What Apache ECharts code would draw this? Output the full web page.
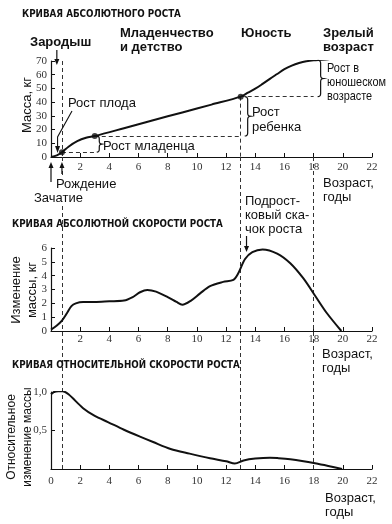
<!DOCTYPE html>
<html><head><meta charset="utf-8">
<script src="https://cdn.jsdelivr.net/npm/echarts/dist/echarts.min.js"></script>
<style>html,body{margin:0;padding:0;background:#fff}#c{width:392px;height:524px}</style>
</head><body><div id="c"></div>
<script>
// ---- data ----
const ageTicks = [0, 2, 4, 6, 8, 10, 12, 14, 16, 18, 20, 22];
const ages1 = [0, 0.4, 0.75, 1.2, 1.8, 2.4, 3, 5, 7, 9, 11, 13, 13.5, 14, 14.5, 15, 15.5, 16, 16.5, 17, 17.5, 18, 19, 20, 21.5];
const mass  = [0, 1.2, 3.5, 7.5, 11.5, 14, 15.3, 21, 26.8, 32.5, 38.2, 44, 47, 49.8, 53.3, 57, 60.5, 64, 66.6, 68.5, 69.8, 70.5, 71.3, 72, 72.7];
const keyAges = [0.75, 3, 13, 18];
const keyMass = [3.5, 15.3, 44, 70.5];
const ages2 = [0, 0.4, 0.75, 1.1, 1.4, 1.7, 2.2, 3, 4, 5, 5.6, 6.1, 6.6, 7.2, 8, 8.6, 9, 9.6, 10.2, 10.9, 11.8, 12.5, 12.8, 13.3, 13.8, 14.5, 15.5, 16.4, 17.3, 18.1, 18.9, 19.9];
const velocity = [0.1, 0.4, 0.75, 1.3, 1.8, 2.0, 2.1, 2.1, 2.15, 2.2, 2.45, 2.8, 2.97, 2.85, 2.45, 2.1, 1.9, 2.2, 2.7, 3.25, 3.55, 3.7, 4.1, 5.2, 5.7, 5.9, 5.6, 4.9, 3.8, 2.55, 1.3, 0];
const ages3 = [0, 0.2, 0.5, 0.8, 1.2, 2.2, 3, 3.9, 5, 6.1, 7, 8.2, 9.5, 10.9, 12, 12.6, 13.2, 14, 15, 15.6, 16.4, 17.2, 18.1, 19, 19.95];
const relative = [0.97, 1.0, 1.01, 1.01, 0.97, 0.79, 0.69, 0.61, 0.51, 0.42, 0.35, 0.26, 0.2, 0.14, 0.1, 0.07, 0.11, 0.135, 0.147, 0.14, 0.126, 0.105, 0.075, 0.04, 0];
const stageAges = [0.75, 13, 18];
const massTicks = [0, 10, 20, 30, 40, 50, 60, 70];
const velTicks = [0, 1, 2, 3, 4, 5, 6];
const relTicks = ['1,0', '0,5'];

const INK = '#111';
const SERIF = 'Liberation Serif';
const SANS = 'Liberation Sans';
const COND = '"DejaVu Sans Condensed", "Liberation Sans"';

function xAx(gi, showZero, margin) {
  return { type: 'value', gridIndex: gi, min: 0, max: 22, interval: 2,
    axisLine: { show: true, onZero: false, lineStyle: { color: INK, width: 1.2 } },
    axisTick: { show: true, inside: true, length: 4, lineStyle: { color: INK } },
    axisLabel: { show: true, margin: margin, fontFamily: SERIF, fontSize: 11, color: '#333',
      formatter: v => (v === 0 && !showZero) ? '' : String(v) },
    splitLine: { show: false } };
}
function yAx(gi, max, interval, fmt) {
  return { type: 'value', gridIndex: gi, min: 0, max: max, interval: interval,
    axisLine: { show: true, lineStyle: { color: INK, width: 1.2 } },
    axisTick: { show: true, inside: true, length: 4, lineStyle: { color: INK } },
    axisLabel: { show: true, margin: 4, fontFamily: SERIF, fontSize: 11, color: '#333', formatter: fmt },
    splitLine: { show: false } };
}
const dashed = { type: [4, 3], color: '#333', width: 1 };
const zip = (a, b) => a.map((v, i) => [v, b[i]]);

const chart = echarts.init(document.getElementById('c'), null, { renderer: 'canvas' });
chart.setOption({
  animation: false,
  backgroundColor: '#fff',
  grid: [
    { left: 51, right: 20, top: 61, height: 96 },
    { left: 51, right: 20, top: 248, height: 83 },
    { left: 51, right: 20, top: 392, height: 77 },
    { left: 51, right: 20, top: 157, height: 312 }
  ],
  xAxis: [xAx(0, false, 5), xAx(1, false, 3), xAx(2, true, 7),
    { type: 'value', gridIndex: 3, min: 0, max: 22, show: false }],
  yAxis: [
    yAx(0, 70, 10, v => massTicks.includes(v) ? String(v) : ''),
    yAx(1, 6, 1, v => velTicks.includes(v) ? String(v) : ''),
    yAx(2, 1, 0.5, v => v === 1 ? relTicks[0] : (v === 0.5 ? relTicks[1] : '')),
    { type: 'value', gridIndex: 3, min: 0, max: 1, show: false }
  ],
  series: [
    { type: 'line', xAxisIndex: 0, yAxisIndex: 0, data: zip(ages1, mass), smooth: 0.3,
      showSymbol: false, lineStyle: { color: INK, width: 2 }, z: 5,
      markLine: { silent: true, symbol: ['none', 'none'], label: { show: false }, lineStyle: dashed,
        data: [
          [{ coord: [keyAges[0], keyMass[0]] }, { coord: [keyAges[1], keyMass[0]] }],
          [{ coord: [keyAges[1], keyMass[1]] }, { coord: [keyAges[2], keyMass[1]] }],
          [{ coord: [keyAges[2], keyMass[2]] }, { coord: [keyAges[3], keyMass[2]] }],
          [{ coord: [stageAges[0], 70] }, { coord: [stageAges[0], 0] }],
          [{ coord: [keyAges[2], keyMass[2]] }, { coord: [keyAges[2], 0] }],
          [{ coord: [keyAges[3], keyMass[3]] }, { coord: [keyAges[3], 0] }]
        ] } },
    { type: 'scatter', xAxisIndex: 0, yAxisIndex: 0, data: zip(keyAges, keyMass), symbolSize: 6,
      itemStyle: { color: INK }, z: 6 },
    { type: 'line', xAxisIndex: 1, yAxisIndex: 1, data: zip(ages2, velocity), smooth: 0.3,
      showSymbol: false, lineStyle: { color: INK, width: 2 }, z: 5 },
    { type: 'line', xAxisIndex: 2, yAxisIndex: 2, data: zip(ages3, relative), smooth: 0.3,
      showSymbol: false, lineStyle: { color: INK, width: 2 }, z: 5 },
    { type: 'line', xAxisIndex: 3, yAxisIndex: 3, data: [], showSymbol: false,
      markLine: { silent: true, symbol: ['none', 'none'], label: { show: false }, lineStyle: dashed,
        data: stageAges.map(a => ({ xAxis: a })) } }
  ]
});

// ---- annotations ----
const P = (g, x, y) => chart.convertToPixel({ gridIndex: g }, [x, y]);
function txt(x, y, text, o) {
  o = o || {};
  return { type: 'text', x: x, y: y, z: 100, rotation: o.rot || 0, scaleX: o.sx || 1, originX: 0, originY: 0,
    style: { text: text, fill: INK, fontFamily: o.ff || SANS, fontSize: o.fs || 13, fontWeight: o.fw || 'normal',
      align: o.align || 'left', verticalAlign: 'middle', lineHeight: o.lh || 15,
      backgroundColor: o.bg || null, padding: o.bg ? [0, 1] : 0 } };
}
function arrow(x, y1, y2) { // from y1 to tip y2 (vertical)
  const d = y2 > y1 ? 1 : -1;
  return [
    { type: 'line', z: 100, shape: { x1: x, y1: y1, x2: x, y2: y2 - d * 4 }, style: { stroke: INK, lineWidth: 1.2 } },
    { type: 'polygon', z: 100, shape: { points: [[x, y2], [x - 2.5, y2 - d * 6], [x + 2.5, y2 - d * 6]] }, style: { fill: INK } }
  ];
}
function quad(p0, c, p1, n) {
  const out = [];
  for (let i = 1; i <= n; i++) { const t = i / n;
    out.push([(1 - t) * (1 - t) * p0[0] + 2 * (1 - t) * t * c[0] + t * t * p1[0],
              (1 - t) * (1 - t) * p0[1] + 2 * (1 - t) * t * c[1] + t * t * p1[1]]); }
  return out;
}
function brace(xl, yt, yb, w) {
  const r = Math.min(3, (yb - yt) / 5), xm = xl + w / 2, ym = (yt + yb) / 2;
  let pts = [[xl, yt]];
  pts = pts.concat(quad([xl, yt], [xm, yt], [xm, yt + r], 4));
  pts.push([xm, ym - r]);
  pts = pts.concat(quad([xm, ym - r], [xm, ym], [xl + w, ym], 4));
  pts = pts.concat(quad([xl + w, ym], [xm, ym], [xm, ym + r], 4));
  pts.push([xm, yb - r]);
  pts = pts.concat(quad([xm, yb - r], [xm, yb], [xl, yb], 4));
  return { type: 'polyline', z: 100, shape: { points: pts }, style: { stroke: INK, lineWidth: 1.2, fill: null } };
}

const g = [];
const TF = { ff: COND, fs: 11, fw: 'bold', sx: 0.885 };
g.push(txt(22, 14, 'КРИВАЯ АБСОЛЮТНОГО РОСТА', TF));
g.push(txt(12, 224, 'КРИВАЯ АБСОЛЮТНОЙ СКОРОСТИ РОСТА', TF));
g.push(txt(12, 365, 'КРИВАЯ ОТНОСИТЕЛЬНОЙ СКОРОСТИ РОСТА', TF));
const SB = { fw: 'bold', fs: 13, lh: 14 };
g.push(txt(30, 42, 'Зародыш', SB));
g.push(txt(120, 40, 'Младенчество\nи детство', SB));
g.push(txt(241, 33, 'Юность', SB));
g.push(txt(323, 40, 'Зрелый\nвозраст', SB));

g.push(txt(68, 103, 'Рост плода'));
g.push(txt(103, 146, 'Рост младенца'));
g.push(txt(252, 119.5, 'Рост\nребенка'));
g.push(txt(327, 82, 'Рост в\nюношеском\nвозрасте', { fs: 13, lh: 14, ff: SANS, sx: 0.84 }));
g.push(txt(55, 184, 'Рождение', { bg: '#fff' }));
g.push(txt(33, 198, 'Зачатие', { bg: '#fff' }));
g.push(txt(323, 190, 'Возраст,\nгоды', { lh: 14 }));
g.push(txt(322, 361, 'Возраст,\nгоды', { lh: 14 }));
g.push(txt(325, 505, 'Возраст,\nгоды', { lh: 14 }));
g.push(txt(245, 215, 'Подрост-\nковый ска-\nчок роста', { lh: 14 }));

g.push(txt(27, 105, 'Масса, кг', { rot: Math.PI / 2, align: 'center' }));
g.push(txt(24, 290, 'Изменение\nмассы, кг', { rot: Math.PI / 2, align: 'center', lh: 16 }));
g.push(txt(20, 437, 'Относительное\nизменение массы', { rot: Math.PI / 2, align: 'center', fs: 12, lh: 16 }));

// braces (tied to the key points)
const b1t = P(0, keyAges[1], keyMass[1]), b1b = P(0, keyAges[1], keyMass[0]);
g.push(brace(b1t[0] + 2, b1t[1], b1b[1], 5));
const b2t = P(0, keyAges[2], keyMass[2]), b2b = P(0, keyAges[2], keyMass[1]);
g.push(brace(b2t[0] + 4, b2t[1], b2b[1], 6));
const b3t = P(0, keyAges[3], keyMass[3]), b3b = P(0, keyAges[3], keyMass[2]);
g.push(brace(b3t[0] + 4, b3t[1], b3b[1], 6));

// arrows
const a0 = P(0, 0.4, 70);
g.push(...arrow(a0[0], 50, 65));
const ax0 = P(0, 0, 0), axB = P(0, stageAges[0], 0);
g.push(...arrow(ax0[0], 182, ax0[1] + 5));
g.push(...arrow(axB[0], 174, axB[1] + 5));
const aT = P(1, 13.4, 6);
g.push(...arrow(aT[0], 236, 252));
// fetal growth pointer
const fp = P(0, 0.45, 1.4);
g.push({ type: 'polyline', z: 100, shape: { points: [[72, 111], [fp[0], 137], [fp[0], fp[1] - 8]] }, style: { stroke: INK, lineWidth: 1.1, fill: null } });
g.push({ type: 'polygon', z: 100, shape: { points: [[fp[0], fp[1] - 2], [fp[0] - 2.5, fp[1] - 9], [fp[0] + 2.5, fp[1] - 9]] }, style: { fill: INK } });

chart.setOption({ graphic: g });
</script>
</body></html>
